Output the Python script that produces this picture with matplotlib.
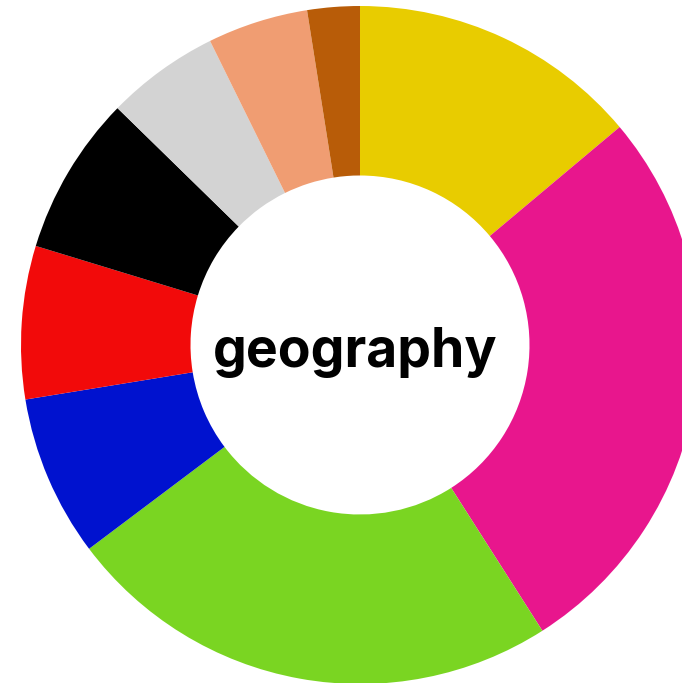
import matplotlib
matplotlib.use("Agg")
import matplotlib.pyplot as plt

# slice data, clockwise from 12 o'clock
labels = ["yellow", "magenta", "green", "blue", "red", "black", "gray", "salmon", "brown"]
values = [13.9, 27.1, 23.8, 7.7, 7.3, 7.6, 5.4, 4.8, 2.5]
colors = ["#E8CC00", "#E8168D", "#7AD522", "#0012CF", "#F20A0A",
          "#000000", "#D3D3D3", "#F09D72", "#B85C08"]
center_label = "geography"

W, H = 682, 683
cx, cy, R = 360, 345, 339

fig = plt.figure(figsize=(W / 100, H / 100), dpi=100)
ax = fig.add_axes([0, 0, 1, 1])

ax.pie(values, colors=colors, startangle=90, counterclock=False,
       radius=1.0, wedgeprops=dict(width=0.5, linewidth=0),
       normalize=True)

ax.set_aspect("auto")
ax.set_xlim(-cx / R, (W - cx) / R)
ax.set_ylim(-(H - cy) / R, cy / R)
ax.axis("off")

ax.text(-5 / R, -7 / R, center_label, ha="center", va="center",
        fontsize=38.5, fontweight="bold", family=["Inter", "DejaVu Sans"])

fig.savefig("out.png", dpi=100)
